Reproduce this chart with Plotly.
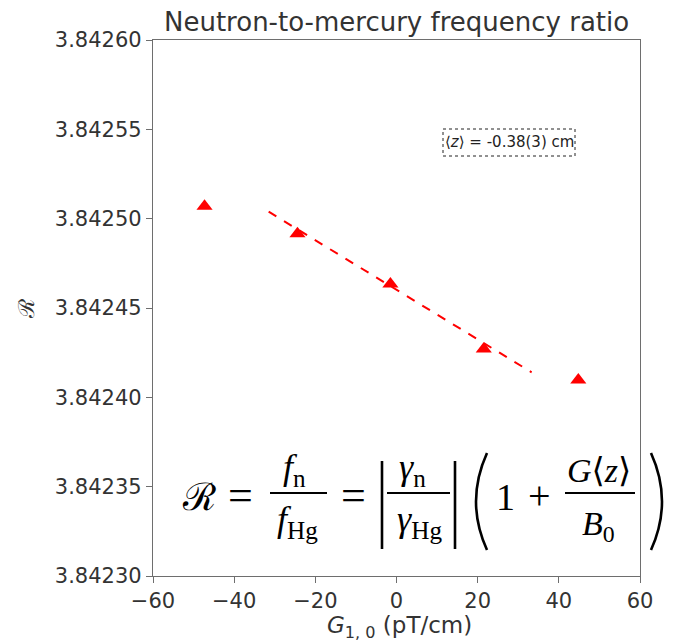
import plotly.graph_objects as go

# ---- data ----
gradient = [-47.3, -24.4, -1.5, 21.5, 44.8]          # G_{1,0} (pT/cm)
ratio = [3.842507, 3.8424915, 3.8424635, 3.8424271, 3.8424097]
fit_x = [-31.5, 33.3]
fit_y = [3.8425039, 3.8424140]
x_ticks = [-60, -40, -20, 0, 20, 40, 60]
y_ticks = [3.84230, 3.84235, 3.84240, 3.84245, 3.84250, 3.84255, 3.84260]
title_text = "Neutron-to-mercury frequency ratio"
x_label = "<i>G</i><sub>1, 0</sub> (pT/cm)"
y_label = "ℛ"
box_text = "⟨<i>z</i>⟩ = -0.38(3) cm"

# page body has an 8px margin, so the figure starts at (8, 8) in the window
O = 8
W, H = 675, 641
# wanted plot area in window pixels: x 153..640, y 40..576
L = 153 - O
T = 40 - O
R = W - (640 - O)
B = H - (576 - O)
PW, PH = W - L - R, H - T - B


def px(x, y):
    """window pixel position -> paper coords"""
    return (x - O - L) / PW, (O + H - B - y) / PH


fig = go.Figure()
fig.add_trace(go.Scatter(x=fit_x, y=fit_y, mode="lines",
                         line=dict(color="#ff0000", width=2, dash="dash"),
                         showlegend=False))
fig.add_trace(go.Scatter(x=gradient, y=ratio, mode="markers",
                         marker=dict(symbol="triangle-up", size=14, color="#ff0000"),
                         showlegend=False))

axis_common = dict(showline=True, linecolor="#6e6e6e", linewidth=1.3, mirror=True,
                   ticks="outside", ticklen=6, tickcolor="#6e6e6e", showgrid=False,
                   zeroline=False, tickfont=dict(family="DejaVu Sans", size=21, color="#333333"))

fig.update_xaxes(range=[-60, 60], tickvals=x_ticks, **axis_common)
fig.update_yaxes(range=[3.84230, 3.84260], tickvals=y_ticks, tickformat=".5f", **axis_common,
                 title=dict(text=y_label, font=dict(family="DejaVu Serif", size=22, color="#333333"),
                            standoff=14))

annotations = []
shapes = []

# title
annotations.append(dict(text=title_text, xref="paper", yref="paper", x=0.5, y=px(0, 22)[1],
                        xanchor="center", yanchor="middle", showarrow=False,
                        font=dict(family="DejaVu Sans", size=26, color="#333333")))

# x-axis label
annotations.append(dict(text=x_label, xref="paper", yref="paper", x=px(399, 0)[0], y=px(0, 627)[1],
                        xanchor="center", yanchor="middle", showarrow=False,
                        font=dict(family="DejaVu Sans", size=23, color="#333333")))

# text box with dotted border
x0, y0 = px(443, 156)
x1, y1 = px(575, 129)
shapes.append(dict(type="rect", xref="paper", yref="paper", x0=x0, y0=y0, x1=x1, y1=y1,
                   line=dict(color="#222222", width=1, dash="dot"), fillcolor="white", layer="above"))
cx, cy = px(509, 142)
annotations.append(dict(text=box_text, xref="paper", yref="paper", x=cx, y=cy,
                        xanchor="center", yanchor="middle", showarrow=False,
                        font=dict(family="DejaVu Sans", size=15, color="#222222")))

# formula
serif = "Liberation Serif, DejaVu Serif, serif"


def txt(s, x, y, size=34):
    ax, ay = px(x, y)
    annotations.append(dict(text=s, xref="paper", yref="paper", x=ax, y=ay,
                            xanchor="center", yanchor="middle", showarrow=False,
                            font=dict(family=serif, size=size, color="black")))


def seg(xa, ya, xb, yb, w=2):
    a = px(xa, ya)
    b = px(xb, yb)
    shapes.append(dict(type="line", xref="paper", yref="paper", x0=a[0], y0=a[1],
                       x1=b[0], y1=b[1], line=dict(color="black", width=w)))


def paren(xe, xm, ytop, ybot):
    a = px(xe, ytop)
    c = px(xm, (ytop + ybot) / 2)
    b = px(xe, ybot)
    shapes.append(dict(type="path", xref="paper", yref="paper",
                       path=f"M {a[0]},{a[1]} Q {c[0]},{c[1]} {b[0]},{b[1]}",
                       line=dict(color="black", width=2.6)))


txt("<span style='font-family:DejaVu Serif'>ℛ</span>", 199, 497, 38)
txt("=", 240, 495, 44)
txt("<i>f</i><sub>n</sub>", 294, 469, 36)
seg(270, 493, 327, 493)
txt("<i>f</i><sub>Hg</sub>", 297, 521, 36)
txt("=", 353, 495, 44)
seg(382, 461, 382, 549, 2.6)
txt("<i>γ</i><sub>n</sub>", 412, 469, 36)
seg(387, 493, 450, 493)
txt("<i>γ</i><sub>Hg</sub>", 419, 521, 36)
seg(455, 461, 455, 549, 2.6)
paren(487, 465, 453, 550)
txt("1", 505, 497, 38)
txt("+", 539, 495, 40)
txt("<i>G</i>⟨<i>z</i>⟩", 599, 470, 34)
seg(565, 493, 635, 493)
txt("<i>B</i><sub>0</sub>", 598, 526, 34)
paren(651, 673, 453, 550)

fig.update_layout(width=W, height=H, margin=dict(l=L, r=R, t=T, b=B),
                  plot_bgcolor="white", paper_bgcolor="white",
                  annotations=annotations, shapes=shapes, showlegend=False)

fig.write_html("out.html")
